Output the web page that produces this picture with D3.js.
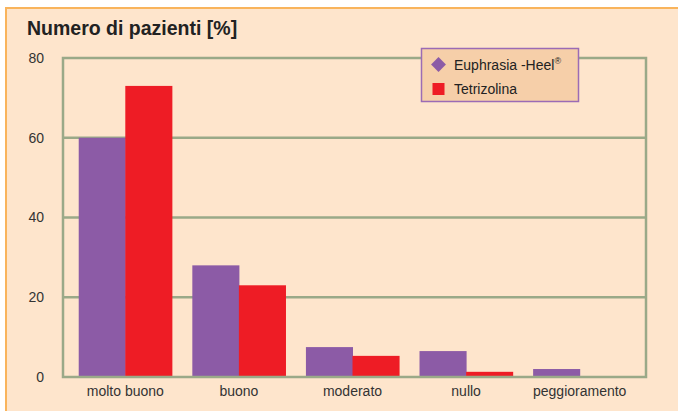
<!DOCTYPE html>
<html><head><meta charset="utf-8">
<script src="https://cdn.jsdelivr.net/npm/d3@7"></script>
<style>body{margin:0;background:#fff}svg{display:block}</style>
</head><body>
<svg id="c" width="678" height="411"></svg>
<script>
const categories = ["molto buono","buono","moderato","nullo","peggioramento"];
const seriesNames = ["Euphrasia -Heel","Tetrizolina"];
const euphrasia = [60, 28, 7.5, 6.5, 2.0];
const tetrizolina = [73, 23, 5.3, 1.3, 0];
const yTicks = [0,20,40,60,80];

const svg = d3.select("#c");
const W=678,H=411;
svg.append("rect").attr("x",6).attr("y",7.5).attr("width",W-6).attr("height",H-7.5).attr("fill","#fee5cc");
svg.append("line").attr("x1",6).attr("x2",W).attr("y1",8).attr("y2",8).attr("stroke","#f9b45c").attr("stroke-width",2);
svg.append("line").attr("x1",6).attr("x2",6).attr("y1",7).attr("y2",H).attr("stroke","#f9b45c").attr("stroke-width",2);

const L=63,R=646,T=58,B=377;
const y=d3.scaleLinear().domain([0,80]).range([B,T]);
const x=d3.scaleBand().domain(categories).range([68.5,636.5]).paddingInner(0.18).paddingOuter(0.09);
const xs=d3.scaleBand().domain(seriesNames).range([0,x.bandwidth()]);
const colors=["#8c5ba6","#ee1c25"];
const grid="#9aa988";

svg.append("text").attr("x",27).attr("y",35).attr("font-family","Liberation Sans, Arial, sans-serif")
  .attr("font-weight","bold").attr("font-size",19.5).attr("fill","#222").text("Numero di pazienti [%]");

// gridlines
svg.append("g").selectAll("line").data(yTicks.slice(1,-1)).join("line")
  .attr("x1",L).attr("x2",R).attr("y1",d=>y(d)).attr("y2",d=>y(d)).attr("stroke",grid).attr("stroke-width",2.5);

// bars
const data=[euphrasia,tetrizolina];
const g=svg.append("g");
seriesNames.forEach((s,i)=>{
  g.selectAll(null).data(categories).join("rect")
   .attr("x",c=>x(c)+xs(s)).attr("width",xs.bandwidth()+0.5)
   .attr("y",(c,j)=>y(data[i][j])).attr("height",(c,j)=>B-y(data[i][j]))
   .attr("fill",colors[i]);
});

// frame
svg.append("rect").attr("x",L).attr("y",T).attr("width",R-L).attr("height",B-T)
  .attr("fill","none").attr("stroke",grid).attr("stroke-width",2.5);

// y axis labels
const yAxis=d3.axisLeft(y).tickValues(yTicks).tickSize(0).tickPadding(0);
const ya=svg.append("g").attr("transform","translate(44,0)").call(yAxis);
ya.select(".domain").remove();
ya.selectAll("text").attr("font-family","Liberation Sans, Arial, sans-serif").attr("font-size",14).attr("fill","#333");

// x axis labels
const xAxis=d3.axisBottom(x).tickSize(0).tickPadding(0);
const xa=svg.append("g").attr("transform","translate(0,386)").call(xAxis);
xa.select(".domain").remove();
xa.selectAll("text").attr("font-family","Liberation Sans, Arial, sans-serif").attr("font-size",14).attr("fill","#333");

// legend
const lg=svg.append("g");
lg.append("rect").attr("x",421.5).attr("y",48.5).attr("width",157).attr("height",53)
  .attr("fill","#f6cfa9").attr("stroke","#9b6bb5").attr("stroke-width",1.5);
lg.append("path").attr("d",d3.symbol(d3.symbolSquare, 110)())
  .attr("transform","translate(438.5,64.5) rotate(45)").attr("fill",colors[0]);
lg.append("rect").attr("x",432.5).attr("y",83).attr("width",12).attr("height",12).attr("fill",colors[1]);
const t1=lg.append("text").attr("x",454).attr("y",70).attr("font-family","Liberation Sans, Arial, sans-serif").attr("font-size",14).attr("fill","#222");
t1.append("tspan").text(seriesNames[0]);
t1.append("tspan").attr("font-size",9).attr("dy",-6).text("®");
lg.append("text").attr("x",454).attr("y",94).attr("font-family","Liberation Sans, Arial, sans-serif").attr("font-size",14).attr("fill","#222").text(seriesNames[1]);
</script>
</body></html>
